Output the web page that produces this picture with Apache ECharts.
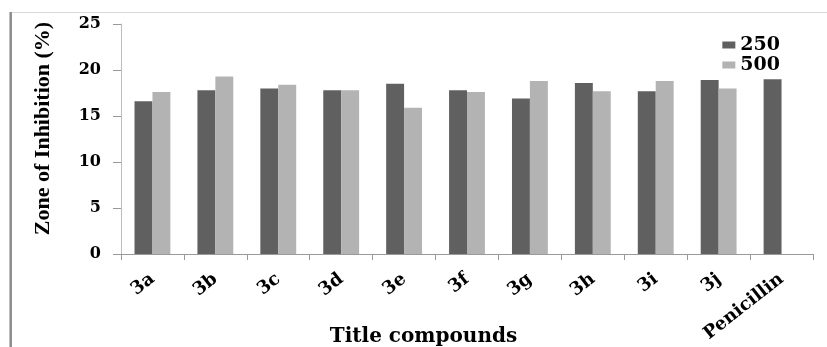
<!DOCTYPE html>
<html>
<head>
<meta charset="utf-8">
<script src="https://cdn.jsdelivr.net/npm/echarts@6/dist/echarts.min.js"></script>
<style>html,body{margin:0;padding:0;background:#fff}#c{width:827px;height:347px}</style>
</head>
<body>
<div id="c"></div>
<script>
const categories = ['3a','3b','3c','3d','3e','3f','3g','3h','3i','3j','Penicillin'];
const series250 = [16.6, 17.8, 18.0, 17.8, 18.5, 17.8, 16.9, 18.6, 17.7, 18.9, 19.0];
const series500 = [17.6, 19.3, 18.4, 17.8, 15.9, 17.6, 18.8, 17.7, 18.8, 18.0, null];
const yTicks = [0, 5, 10, 15, 20, 25];

const chart = echarts.init(document.getElementById('c'));
const serifW = '"DejaVu Serif", serif';
const serifT = '"Liberation Serif", "Times New Roman", serif';
chart.setOption({
  backgroundColor: '#fff',
  animation: false,
  grid: {left: 121, right: 14, top: 24, bottom: 93, containLabel: false, outerBoundsMode: 'none'},
  legend: {
    orient: 'vertical', right: 42, top: 30,
    itemWidth: 13, itemHeight: 7, itemGap: 0,
    icon: 'rect',
    textStyle: {fontFamily: serifW, fontWeight: 'bold', fontSize: 19, color: '#000', lineHeight: 20},
    data: ['250', '500']
  },
  xAxis: {
    type: 'category', data: categories,
    axisLine: {lineStyle: {color: '#9a9a9a', width: 1}},
    axisTick: {show: true, length: 6, alignWithLabel: false, lineStyle: {color: '#9a9a9a'}},
    axisLabel: {rotate: 38, margin: 23, interval: 0, fontFamily: serifW, fontWeight: 'bold', fontSize: 18, color: '#000'},
    name: 'Title compounds', nameLocation: 'middle', nameGap: 73, nameMoveOverlap: false,
    nameTextStyle: {fontFamily: serifW, fontWeight: 'bold', fontSize: 20, color: '#000', padding: [0, 87, 0, 0]}
  },
  yAxis: {
    type: 'value', min: yTicks[0], max: yTicks[yTicks.length-1], interval: 5,
    axisLine: {show: true, lineStyle: {color: '#bdbdbd', width: 1}},
    axisTick: {show: true, length: 8, lineStyle: {color: '#9a9a9a'}},
    splitLine: {show: false},
    axisLabel: {margin: 20, fontFamily: serifW, fontWeight: 'bold', fontSize: 16, color: '#000'},
    name: 'Zone of Inhibition (%)', nameLocation: 'middle', nameGap: 67, nameRotate: 90, nameMoveOverlap: false,
    nameTextStyle: {fontFamily: serifT, fontWeight: 'bold', fontSize: 22, color: '#000', padding: [0, 0, 0, 21]}
  },
  series: [
    {name: '250', type: 'bar', data: series250, barGap: '0%', barCategoryGap: '43%', itemStyle: {color: '#606060'}},
    {name: '500', type: 'bar', data: series500, barGap: '0%', barCategoryGap: '43%', itemStyle: {color: '#b3b3b3'}}
  ],
  graphic: [
    {type: 'line', shape: {x1: 10, y1: 12.5, x2: 827, y2: 12.5}, style: {stroke: '#d9d9d9', lineWidth: 1}, silent: true},
    {type: 'line', shape: {x1: 10.7, y1: 12, x2: 10.7, y2: 347}, style: {stroke: '#8c8c8c', lineWidth: 2.5}, silent: true}
  ]
});
</script>
</body>
</html>
